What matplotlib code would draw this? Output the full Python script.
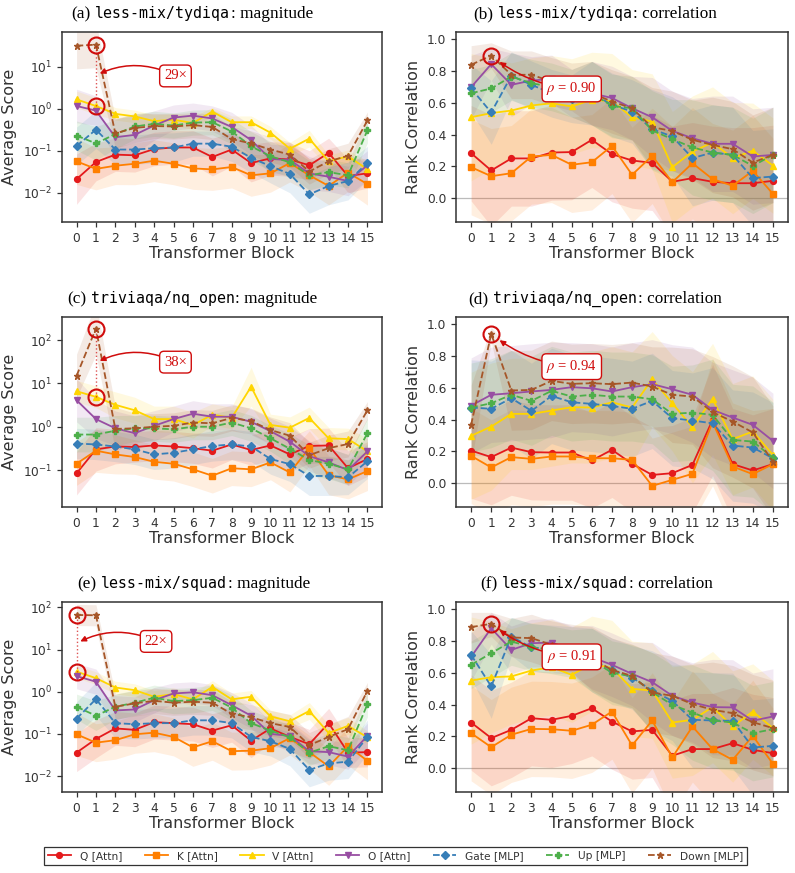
import numpy as np
import matplotlib
matplotlib.use("Agg")
import matplotlib.pyplot as plt

plt.rcParams['mathtext.fontset'] = 'stix'

blocks = list(range(16))
series_names = ["Q [Attn]", "K [Attn]", "V [Attn]", "O [Attn]", "Gate [MLP]", "Up [MLP]", "Down [MLP]"]
colors = ["#e41a1c", "#ff7f00", "#ffd500", "#984ea3", "#377eb8", "#4daf4a", "#a65628"]
markers = ["o", "s", "^", "v", "D", "P", "*"]
styles = ["-", "-", "-", "-", "--", "--", "--"]

# ---- (a) less-mix/tydiqa magnitude (order: Q K V O Gate Up Down)
tydiqa_mag = [
    [0.021, 0.054, 0.081, 0.078, 0.11, 0.12, 0.12, 0.071, 0.107, 0.051, 0.066, 0.062, 0.045, 0.089, 0.025, 0.029],
    [0.056, 0.037, 0.044, 0.049, 0.058, 0.049, 0.038, 0.036, 0.041, 0.026, 0.029, 0.051, 0.026, 0.0145, 0.03, 0.016],
    [1.68, 1.17, 0.76, 0.66, 0.51, 0.55, 0.46, 0.86, 0.48, 0.48, 0.27, 0.112, 0.195, 0.056, 0.074, 0.036],
    [1.17, 0.91, 0.21, 0.24, 0.40, 0.62, 0.69, 0.59, 0.37, 0.18, 0.064, 0.06, 0.029, 0.024, 0.019, 0.045],
    [0.13, 0.32, 0.107, 0.107, 0.115, 0.12, 0.148, 0.148, 0.125, 0.068, 0.043, 0.028, 0.0091, 0.0145, 0.019, 0.051],
    [0.23, 0.15, 0.25, 0.38, 0.44, 0.40, 0.47, 0.48, 0.29, 0.128, 0.074, 0.053, 0.026, 0.031, 0.026, 0.31],
    [32, 34, 0.26, 0.35, 0.39, 0.38, 0.41, 0.37, 0.19, 0.15, 0.107, 0.081, 0.032, 0.056, 0.076, 0.53],
]
tydiqa_mag_spread = [
    [0.6, 0.45, 0.4, 0.4, 0.4, 0.4, 0.4, 0.45, 0.4, 0.45, 0.4, 0.4, 0.35, 0.35, 0.4, 0.35],
    [0.55, 0.5, 0.45, 0.5, 0.5, 0.5, 0.5, 0.5, 0.5, 0.5, 0.45, 0.45, 0.4, 0.45, 0.45, 0.5],
    [0.2, 0.2, 0.15, 0.15, 0.15, 0.15, 0.15, 0.1, 0.15, 0.15, 0.15, 0.15, 0.2, 0.15, 0.15, 0.2],
    [0.4, 0.35, 0.45, 0.45, 0.35, 0.3, 0.3, 0.3, 0.35, 0.35, 0.35, 0.35, 0.4, 0.35, 0.35, 0.35],
    [0.45, 0.45, 0.35, 0.35, 0.35, 0.35, 0.3, 0.3, 0.35, 0.35, 0.4, 0.45, 0.45, 0.45, 0.45, 0.4],
    [0.35, 0.4, 0.35, 0.3, 0.3, 0.3, 0.3, 0.3, 0.3, 0.35, 0.35, 0.35, 0.35, 0.3, 0.3, 0.3],
    [0.55, 0.55, 0.35, 0.35, 0.3, 0.3, 0.3, 0.3, 0.3, 0.3, 0.3, 0.3, 0.3, 0.3, 0.3, 0.2],
]

# ---- (b) less-mix/tydiqa correlation
tydiqa_corr = [
    [0.283, 0.174, 0.25, 0.25, 0.287, 0.29, 0.367, 0.277, 0.237, 0.222, 0.103, 0.126, 0.103, 0.094, 0.094, 0.109],
    [0.195, 0.138, 0.157, 0.262, 0.272, 0.21, 0.226, 0.329, 0.147, 0.266, 0.10, 0.22, 0.12, 0.078, 0.172, 0.027],
    [0.509, 0.535, 0.551, 0.583, 0.597, 0.577, 0.618, 0.61, 0.509, 0.482, 0.195, 0.293, 0.35, 0.252, 0.298, 0.205],
    [0.698, 0.843, 0.713, 0.74, 0.75, 0.66, 0.66, 0.63, 0.566, 0.509, 0.423, 0.377, 0.342, 0.342, 0.262, 0.272],
    [0.69, 0.539, 0.77, 0.713, 0.66, 0.625, 0.66, 0.587, 0.545, 0.434, 0.388, 0.252, 0.287, 0.272, 0.126, 0.136],
    [0.66, 0.69, 0.765, 0.723, 0.70, 0.66, 0.66, 0.58, 0.566, 0.426, 0.371, 0.319, 0.287, 0.272, 0.203, 0.272],
    [0.839, 0.897, 0.776, 0.776, 0.734, 0.70, 0.66, 0.608, 0.566, 0.446, 0.423, 0.367, 0.335, 0.308, 0.224, 0.272],
]
tydiqa_corr_spread = [
    [0.3, 0.35, 0.3, 0.3, 0.3, 0.3, 0.3, 0.3, 0.3, 0.3, 0.35, 0.35, 0.35, 0.35, 0.35, 0.35],
    [0.3, 0.3, 0.3, 0.3, 0.3, 0.3, 0.3, 0.3, 0.3, 0.3, 0.35, 0.35, 0.35, 0.35, 0.35, 0.35],
    [0.4, 0.35, 0.3, 0.3, 0.3, 0.3, 0.3, 0.3, 0.3, 0.3, 0.35, 0.35, 0.35, 0.35, 0.3, 0.3],
    [0.2, 0.1, 0.2, 0.15, 0.15, 0.15, 0.2, 0.2, 0.2, 0.25, 0.25, 0.25, 0.3, 0.3, 0.3, 0.3],
    [0.15, 0.2, 0.15, 0.15, 0.15, 0.15, 0.2, 0.2, 0.2, 0.25, 0.25, 0.3, 0.3, 0.3, 0.3, 0.3],
    [0.15, 0.15, 0.15, 0.15, 0.15, 0.15, 0.2, 0.2, 0.2, 0.25, 0.25, 0.3, 0.3, 0.3, 0.3, 0.3],
    [0.12, 0.08, 0.15, 0.15, 0.15, 0.15, 0.2, 0.2, 0.2, 0.25, 0.25, 0.25, 0.3, 0.3, 0.3, 0.3],
]

# ---- (c) triviaqa/nq_open magnitude
trivia_mag = [
    [0.084, 0.30, 0.35, 0.34, 0.37, 0.35, 0.32, 0.28, 0.39, 0.29, 0.37, 0.23, 0.36, 0.37, 0.11, 0.18],
    [0.14, 0.28, 0.23, 0.20, 0.155, 0.14, 0.104, 0.074, 0.11, 0.104, 0.15, 0.088, 0.32, 0.076, 0.061, 0.095],
    [6.6, 4.9, 3.2, 2.4, 1.5, 1.5, 1.09, 1.9, 1.6, 8.4, 1.1, 0.95, 1.6, 0.54, 0.52, 0.27],
    [4.1, 1.5, 0.92, 0.71, 1.05, 1.5, 2.0, 1.7, 1.7, 1.3, 0.79, 0.45, 0.21, 0.15, 0.10, 0.27],
    [0.41, 0.39, 0.35, 0.30, 0.23, 0.25, 0.30, 0.36, 0.39, 0.35, 0.18, 0.137, 0.073, 0.073, 0.068, 0.16],
    [0.66, 0.66, 0.81, 0.92, 0.92, 0.87, 1.0, 1.0, 1.25, 0.92, 0.54, 0.31, 0.17, 0.14, 0.104, 0.71],
    [15, 185, 0.89, 0.92, 1.0, 1.05, 1.25, 1.2, 1.6, 1.35, 0.84, 0.62, 0.22, 0.32, 0.40, 2.4],
]
trivia_mag_spread = [
    [0.5, 0.5, 0.4, 0.35, 0.35, 0.35, 0.35, 0.4, 0.35, 0.35, 0.35, 0.4, 0.4, 0.4, 0.4, 0.4],
    [0.5, 0.5, 0.45, 0.4, 0.4, 0.4, 0.4, 0.4, 0.4, 0.4, 0.4, 0.45, 0.4, 0.45, 0.45, 0.45],
    [0.25, 0.25, 0.3, 0.3, 0.3, 0.3, 0.3, 0.25, 0.25, 0.45, 0.25, 0.25, 0.25, 0.25, 0.25, 0.3],
    [0.5, 0.45, 0.4, 0.4, 0.35, 0.3, 0.3, 0.3, 0.3, 0.3, 0.3, 0.35, 0.35, 0.35, 0.35, 0.35],
    [0.35, 0.35, 0.35, 0.35, 0.35, 0.35, 0.35, 0.35, 0.35, 0.35, 0.35, 0.4, 0.45, 0.45, 0.4, 0.4],
    [0.4, 0.4, 0.35, 0.3, 0.3, 0.3, 0.3, 0.3, 0.3, 0.3, 0.3, 0.35, 0.35, 0.35, 0.35, 0.35],
    [0.5, 0.6, 0.5, 0.35, 0.3, 0.3, 0.3, 0.3, 0.3, 0.3, 0.3, 0.3, 0.3, 0.3, 0.3, 0.2],
]

# ---- (d) triviaqa/nq_open correlation
trivia_corr = [
    [0.205, 0.164, 0.224, 0.195, 0.193, 0.193, 0.143, 0.21, 0.122, 0.052, 0.063, 0.115, 0.398, 0.12, 0.08, 0.12],
    [0.172, 0.099, 0.164, 0.153, 0.168, 0.168, 0.157, 0.157, 0.147, -0.017, 0.021, 0.059, 0.384, 0.105, 0.057, 0.12],
    [0.298, 0.356, 0.436, 0.436, 0.457, 0.478, 0.476, 0.509, 0.476, 0.654, 0.503, 0.352, 0.53, 0.277, 0.325, 0.178],
    [0.488, 0.556, 0.566, 0.577, 0.587, 0.604, 0.597, 0.577, 0.604, 0.623, 0.591, 0.556, 0.461, 0.413, 0.367, 0.266],
    [0.476, 0.468, 0.535, 0.455, 0.549, 0.509, 0.499, 0.486, 0.468, 0.518, 0.409, 0.394, 0.377, 0.237, 0.224, 0.157],
    [0.476, 0.503, 0.556, 0.518, 0.581, 0.545, 0.556, 0.545, 0.545, 0.528, 0.436, 0.444, 0.43, 0.272, 0.262, 0.161],
    [0.367, 0.939, 0.583, 0.587, 0.644, 0.625, 0.629, 0.623, 0.633, 0.608, 0.556, 0.545, 0.447, 0.388, 0.319, 0.136],
]
trivia_corr_spread = [
    [0.3, 0.3, 0.3, 0.3, 0.3, 0.3, 0.3, 0.3, 0.3, 0.3, 0.3, 0.3, 0.35, 0.35, 0.35, 0.35],
    [0.3, 0.3, 0.3, 0.3, 0.3, 0.3, 0.3, 0.3, 0.3, 0.3, 0.3, 0.3, 0.4, 0.4, 0.4, 0.35],
    [0.4, 0.4, 0.35, 0.35, 0.35, 0.35, 0.35, 0.35, 0.35, 0.3, 0.3, 0.35, 0.35, 0.35, 0.35, 0.35],
    [0.3, 0.3, 0.3, 0.3, 0.3, 0.28, 0.28, 0.28, 0.28, 0.28, 0.28, 0.3, 0.3, 0.3, 0.3, 0.3],
    [0.3, 0.3, 0.3, 0.3, 0.3, 0.3, 0.3, 0.3, 0.3, 0.3, 0.3, 0.3, 0.35, 0.35, 0.35, 0.35],
    [0.28, 0.28, 0.28, 0.28, 0.28, 0.28, 0.28, 0.28, 0.28, 0.28, 0.3, 0.3, 0.35, 0.35, 0.35, 0.35],
    [0.25, 0.05, 0.25, 0.25, 0.25, 0.25, 0.25, 0.25, 0.25, 0.25, 0.3, 0.3, 0.35, 0.35, 0.35, 0.35],
]

# ---- (e) less-mix/squad magnitude
squad_mag = [
    [0.036, 0.076, 0.135, 0.125, 0.19, 0.18, 0.17, 0.12, 0.16, 0.069, 0.135, 0.085, 0.057, 0.18, 0.036, 0.037],
    [0.098, 0.062, 0.071, 0.098, 0.107, 0.085, 0.048, 0.067, 0.039, 0.04, 0.046, 0.08, 0.037, 0.017, 0.051, 0.023],
    [3.0, 2.1, 1.26, 1.09, 0.76, 0.88, 0.66, 1.3, 0.66, 0.76, 0.26, 0.20, 0.35, 0.105, 0.155, 0.083],
    [2.35, 1.73, 0.36, 0.38, 0.63, 0.91, 0.97, 0.83, 0.48, 0.27, 0.10, 0.09, 0.039, 0.037, 0.029, 0.09],
    [0.23, 0.67, 0.18, 0.17, 0.18, 0.18, 0.21, 0.21, 0.18, 0.085, 0.067, 0.044, 0.014, 0.020, 0.022, 0.085],
    [0.44, 0.27, 0.44, 0.55, 0.72, 0.60, 0.63, 0.72, 0.42, 0.18, 0.12, 0.083, 0.036, 0.051, 0.041, 0.51],
    [66, 65, 0.44, 0.53, 0.61, 0.55, 0.58, 0.55, 0.30, 0.25, 0.18, 0.146, 0.054, 0.085, 0.13, 1.05],
]
squad_mag_spread = [
    [0.45, 0.45, 0.4, 0.4, 0.4, 0.4, 0.4, 0.4, 0.4, 0.4, 0.35, 0.35, 0.35, 0.35, 0.35, 0.35],
    [0.5, 0.45, 0.45, 0.45, 0.45, 0.45, 0.45, 0.45, 0.45, 0.45, 0.4, 0.4, 0.4, 0.45, 0.45, 0.45],
    [0.15, 0.15, 0.15, 0.15, 0.15, 0.15, 0.15, 0.15, 0.15, 0.15, 0.15, 0.15, 0.2, 0.2, 0.2, 0.15],
    [0.3, 0.3, 0.35, 0.3, 0.3, 0.25, 0.25, 0.25, 0.3, 0.3, 0.3, 0.3, 0.3, 0.3, 0.3, 0.3],
    [0.4, 0.4, 0.35, 0.35, 0.35, 0.35, 0.35, 0.35, 0.35, 0.35, 0.35, 0.4, 0.4, 0.4, 0.4, 0.4],
    [0.3, 0.35, 0.3, 0.3, 0.3, 0.3, 0.3, 0.3, 0.3, 0.3, 0.3, 0.3, 0.3, 0.3, 0.3, 0.3],
    [0.25, 0.25, 0.3, 0.3, 0.3, 0.3, 0.3, 0.3, 0.3, 0.3, 0.3, 0.3, 0.3, 0.3, 0.3, 0.2],
]

# ---- (f) less-mix/squad correlation
squad_corr = [
    [0.287, 0.189, 0.241, 0.314, 0.304, 0.329, 0.377, 0.293, 0.231, 0.241, 0.078, 0.12, 0.12, 0.157, 0.115, 0.094],
    [0.22, 0.132, 0.21, 0.247, 0.245, 0.235, 0.273, 0.356, 0.143, 0.30, 0.067, 0.262, 0.12, 0.052, 0.203, 0.027],
    [0.551, 0.572, 0.577, 0.614, 0.635, 0.587, 0.656, 0.63, 0.499, 0.488, 0.287, 0.304, 0.384, 0.262, 0.356, 0.252],
    [0.70, 0.88, 0.744, 0.786, 0.79, 0.744, 0.698, 0.65, 0.593, 0.541, 0.455, 0.413, 0.384, 0.382, 0.298, 0.325],
    [0.713, 0.514, 0.828, 0.759, 0.75, 0.74, 0.68, 0.618, 0.57, 0.488, 0.423, 0.304, 0.30, 0.298, 0.13, 0.14],
    [0.65, 0.723, 0.797, 0.761, 0.744, 0.72, 0.68, 0.60, 0.577, 0.478, 0.398, 0.35, 0.30, 0.287, 0.22, 0.245],
    [0.887, 0.908, 0.822, 0.818, 0.776, 0.755, 0.69, 0.618, 0.58, 0.476, 0.455, 0.403, 0.367, 0.346, 0.289, 0.252],
]
squad_corr_spread = [
    [0.3, 0.3, 0.3, 0.3, 0.3, 0.3, 0.3, 0.3, 0.3, 0.3, 0.35, 0.35, 0.35, 0.35, 0.35, 0.35],
    [0.3, 0.3, 0.3, 0.3, 0.3, 0.3, 0.3, 0.3, 0.3, 0.3, 0.35, 0.35, 0.35, 0.35, 0.35, 0.35],
    [0.4, 0.35, 0.3, 0.3, 0.3, 0.3, 0.3, 0.3, 0.3, 0.3, 0.35, 0.35, 0.35, 0.35, 0.3, 0.3],
    [0.15, 0.1, 0.15, 0.15, 0.15, 0.15, 0.2, 0.2, 0.2, 0.25, 0.25, 0.25, 0.3, 0.3, 0.3, 0.3],
    [0.15, 0.2, 0.12, 0.15, 0.15, 0.15, 0.2, 0.2, 0.2, 0.25, 0.25, 0.3, 0.3, 0.3, 0.3, 0.3],
    [0.15, 0.15, 0.15, 0.15, 0.15, 0.15, 0.2, 0.2, 0.2, 0.25, 0.25, 0.3, 0.3, 0.3, 0.3, 0.3],
    [0.1, 0.08, 0.12, 0.15, 0.15, 0.15, 0.2, 0.2, 0.2, 0.25, 0.25, 0.25, 0.3, 0.3, 0.3, 0.3],
]

ANN_RED = "#d00c0c"
TEXT_GRAY = "#333333"


def add_title(ax, x0, tag, name, kind):
    y = 1.074
    t1 = ax.text(x0, y, tag, transform=ax.transAxes, fontfamily="Liberation Serif",
                 fontsize=12.4, va="baseline", ha="left")
    t2 = ax.annotate(name, xy=(1, y), xycoords=(t1, "axes fraction"), xytext=(3.4, 0),
                     textcoords="offset points", fontfamily="DejaVu Sans Mono",
                     fontsize=10.7, va="baseline", ha="left")
    ax.annotate(": " + kind, xy=(1, y), xycoords=(t2, "axes fraction"), xytext=(0.5, 0),
                textcoords="offset points", fontfamily="Liberation Serif",
                fontsize=12.4, va="baseline", ha="left")


def style_axes(ax):
    for s in ax.spines.values():
        s.set_color("#333333")
        s.set_linewidth(1.1)
    ax.set_xticks(blocks)
    ax.tick_params(labelsize=8.8, colors="#333333", length=3.5, width=0.9)
    ax.tick_params(which="minor", length=0)
    ax.set_xlabel("Transformer Block", fontsize=11.5, color=TEXT_GRAY, labelpad=1)
    ax.set_xlim(-0.75, 15.75)


def draw_mag(ax, data, spread):
    x = np.array(blocks)
    for vals, sp, c in zip(data, spread, colors):
        v = np.array(vals)
        s = np.array(sp)
        ax.fill_between(x, v / 10 ** s, v * 10 ** s, color=c, alpha=0.12, lw=0)
    for vals, c, m, ls, name in zip(data, colors, markers, styles, series_names):
        ax.plot(x, vals, ls, color=c, marker=m, ms=4.2 if m != "*" else 5, lw=1.3, label=name)
    ax.set_yscale("log")
    ax.set_ylabel("Average Score", fontsize=11.5, color=TEXT_GRAY)
    style_axes(ax)


def draw_corr(ax, data, spread):
    x = np.array(blocks)
    ax.axhline(0, color="#bbbbbb", lw=0.9, zorder=0)
    for vals, sp, c in zip(data, spread, colors):
        v = np.array(vals)
        s = np.array(sp)
        ax.fill_between(x, v - s, np.minimum(v + s, 0.98), color=c, alpha=0.12, lw=0)
    for vals, c, m, ls, name in zip(data, colors, markers, styles, series_names):
        ax.plot(x, vals, ls, color=c, marker=m, ms=4.2 if m != "*" else 5, lw=1.3, label=name)
    ax.set_ylim(-0.15, 1.045)
    ax.set_yticks([0.0, 0.2, 0.4, 0.6, 0.8, 1.0])
    ax.set_ylabel("Rank Correlation", fontsize=11.5, color=TEXT_GRAY)
    style_axes(ax)


def mark_ratio(ax, data, idx, label, box_xy):
    hi = data[6][idx]
    lo = data[2][idx]
    ax.plot([idx, idx], [lo, hi], ":", color=ANN_RED, lw=1.0, alpha=0.7, zorder=5)
    ax.plot([idx, idx], [lo, hi], "o", mfc="none", mec=ANN_RED, ms=11.5, mew=1.5, zorder=6)
    mid = np.sqrt(hi * lo)
    ax.annotate(label, xy=(idx, mid), xytext=box_xy, color=ANN_RED, fontsize=10.5,
                fontfamily="Liberation Serif", ha="center", va="center", zorder=7,
                bbox=dict(boxstyle="round,pad=0.3", fc="white", ec=ANN_RED, lw=1.0),
                arrowprops=dict(arrowstyle="-|>", color=ANN_RED, lw=1.1, mutation_scale=8,
                                connectionstyle="arc3,rad=0.25", shrinkA=0, shrinkB=3))


def mark_rho(ax, data, idx, label, box_xy):
    val = data[6][idx]
    ax.plot([idx], [val], "o", mfc="none", mec=ANN_RED, ms=11.5, mew=1.5, zorder=6)
    ax.annotate(label, xy=(idx, val), xytext=box_xy, color=ANN_RED, fontsize=10.5,
                fontfamily="Liberation Serif", ha="center", va="center", zorder=7,
                bbox=dict(boxstyle="round,pad=0.3", fc="white", ec=ANN_RED, lw=1.0),
                arrowprops=dict(arrowstyle="-|>", color=ANN_RED, lw=1.1, mutation_scale=8,
                                connectionstyle="arc3,rad=-0.15", shrinkA=0, shrinkB=7.5))


fig = plt.figure(figsize=(7.95, 8.73), dpi=100)
left_x, right_x = 0.078, 0.5736
w_left, w_right = 0.4025, 0.4176
h = 0.2176
rows = [0.7457, 0.4192, 0.0928]

ax_a = fig.add_axes([left_x, rows[0], w_left, h])
ax_b = fig.add_axes([right_x, rows[0], w_right, h])
ax_c = fig.add_axes([left_x, rows[1], w_left, h])
ax_d = fig.add_axes([right_x, rows[1], w_right, h])
ax_e = fig.add_axes([left_x, rows[2], w_left, h])
ax_f = fig.add_axes([right_x, rows[2], w_right, h])

draw_mag(ax_a, tydiqa_mag, tydiqa_mag_spread)
ax_a.set_ylim(2.0e-3, 68)
mark_ratio(ax_a, tydiqa_mag, 1, "29×", (5.1, 6.1))
add_title(ax_a, 0.028, "(a)", "less-mix/tydiqa", "magnitude")

draw_corr(ax_b, tydiqa_corr, tydiqa_corr_spread)
mark_rho(ax_b, tydiqa_corr, 1, r"$\rho$ = 0.90", (5.0, 0.687))
add_title(ax_b, 0.051, "(b)", "less-mix/tydiqa", "correlation")

draw_mag(ax_c, trivia_mag, trivia_mag_spread)
ax_c.set_ylim(0.014, 340)
mark_ratio(ax_c, trivia_mag, 1, "38×", (5.1, 31))
add_title(ax_c, 0.015, "(c)", "triviaqa/nq_open", "magnitude")

draw_corr(ax_d, trivia_corr, trivia_corr_spread)
mark_rho(ax_d, trivia_corr, 1, r"$\rho$ = 0.94", (5.0, 0.733))
add_title(ax_d, 0.037, "(d)", "triviaqa/nq_open", "correlation")

draw_mag(ax_e, squad_mag, squad_mag_spread)
ax_e.set_ylim(0.0042, 134)
mark_ratio(ax_e, squad_mag, 0, "22×", (4.1, 15.6))
add_title(ax_e, 0.048, "(e)", "less-mix/squad", "magnitude")

draw_corr(ax_f, squad_corr, squad_corr_spread)
mark_rho(ax_f, squad_corr, 1, r"$\rho$ = 0.91", (5.0, 0.70))
add_title(ax_f, 0.072, "(f)", "less-mix/squad", "correlation")

for ax in [ax_a, ax_c, ax_e]:
    ax.yaxis.set_minor_locator(matplotlib.ticker.NullLocator())

handles, labels = ax_a.get_legend_handles_labels()
leg = fig.legend(handles, labels, loc="center", bbox_to_anchor=(0.4975, 0.0195), ncol=7,
                 fontsize=7.7, handlelength=2.2, handletextpad=0.8, columnspacing=2.1,
                 frameon=True, fancybox=False, edgecolor="black", borderpad=0.35)
leg.get_frame().set_linewidth(0.9)
for t in leg.get_texts():
    t.set_color(TEXT_GRAY)

fig.savefig("out.png", dpi=100)
